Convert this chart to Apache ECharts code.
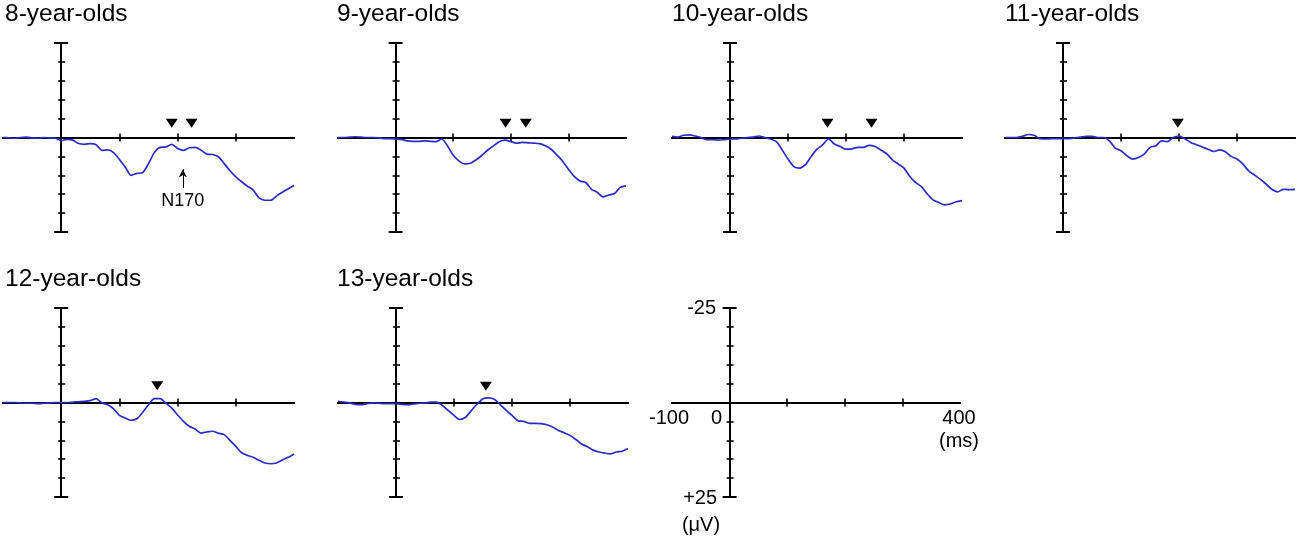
<!DOCTYPE html>
<html><head><meta charset="utf-8">
<script src="https://cdn.jsdelivr.net/npm/echarts@6/dist/echarts.min.js"></script>
<style>html,body{margin:0;padding:0;background:#fff}#c{width:1300px;height:538px}</style>
</head><body><div id="c"></div>
<script>
// ---- data ----
const times = [-100,-90,-80,-70,-60,-50,-40,-30,-20,-10,0,10,20,30,40,50,60,70,80,90,100,110,120,130,140,150,160,170,180,190,200,210,220,230,240,250,260,270,280,290,300,310,320,330,340,350,360,370,380,390,400];
const age8  = [0,0.1,0.2,0,-0.1,0.1,0.2,0,0.1,0.2,0.8,0.5,0.7,1.6,1.8,1.6,1.9,3.4,3.3,4.0,5.8,7.8,10.0,9.5,9.3,6.9,4.0,2.6,2.5,1.8,2.9,3.4,2.7,2.6,3.3,4.4,4.5,5.1,6.9,8.8,10.4,11.7,12.9,13.9,16.0,16.6,16.6,15.5,14.5,13.6,12.7];
const age9  = [0,0,-0.1,-0.2,-0.1,0,0,0.1,0.3,0.3,0.4,0.5,0.9,1.0,1.0,0.9,1.0,1.1,0.4,2.2,4.7,6.2,7.0,6.8,5.9,4.7,3.3,2.2,1.1,0.7,1.1,1.5,1.3,1.4,1.5,1.6,2.2,3.1,4.6,6.3,8.4,10.3,11.5,11.9,13.7,14.5,15.7,15.2,14.8,13.2,12.8];
const age10 = [-0.3,-0.1,-0.6,-0.7,-0.4,0,0.6,0.6,0.7,0.6,0.4,0.4,0.2,0,-0.1,-0.4,0,0.4,1.1,3.3,5.7,7.7,8.1,7.2,5.0,3.1,1.9,0.4,1.7,2.4,3.1,3.0,2.6,2.6,2.1,2.4,3.3,4.3,5.9,7.0,8.1,10.3,11.9,13.0,14.9,16.5,17.2,17.8,17.6,17.0,16.7];
const age11 = [0,0,0,-0.3,-0.8,-0.6,0.3,0.4,0.3,0.3,0.3,0.3,0.1,-0.1,-0.3,-0.3,0,0,0.9,2.8,3.5,4.8,5.7,5.3,4.4,2.6,2.2,0.9,1.1,0,-0.4,0.3,1.3,1.9,2.5,3.1,3.7,3.3,3.8,5.0,5.7,7.0,8.8,9.9,11.0,12.3,13.7,14.4,13.7,13.8,13.7];
const age12 = [0,0,0,0.1,0.2,0.2,0.3,0.2,0.1,0,0,0,-0.1,-0.2,-0.3,-0.5,-1.0,0.1,0.6,1.7,3.4,4.1,4.7,4.3,2.6,0.6,-1.0,-1.0,0.2,1.5,3.3,5.0,6.3,7.0,8.1,7.8,7.6,8.1,8.5,10.0,11.6,13.3,14.0,14.5,15.3,16.0,16.2,16.0,15.2,14.5,13.6];
const age13 = [-0.3,-0.1,0.1,0.5,0.6,0.3,0.1,0.2,0.3,0.3,0.3,0.5,0.6,0.4,0.2,0.1,-0.1,-0.1,0.8,2.1,3.4,4.5,3.9,2.1,0.4,-1.0,-1.2,-0.8,0.6,2.1,3.4,4.8,5.0,5.5,5.5,5.6,5.9,6.5,7.4,8.0,8.7,9.8,11.0,11.7,12.6,13.1,13.4,13.6,13.1,12.9,12.2];
const waves = [age8, age9, age10, age11, age12, age13];
const panelTitles = ['8-year-olds','9-year-olds','10-year-olds','11-year-olds','12-year-olds','13-year-olds'];
// peak markers (latency ms, amplitude level of the marker)
const peaks = [[[190,-3.8],[224,-3.8]], [[191,-3.8],[226,-3.8]], [[168,-3.8],[244,-3.8]], [[198,-3.8]], [[165,-4.4]], [[155,-4.3]]];
const xTicks = [100,200,300];
const yTicks = [-20,-15,-10,-5,5,10,15,20];
const yEnds = [-25,25];
// scale-bar panel labels: [x ms, y µV, text]
const scaleLabelsY = [[0,-25,'-25'],[0,25,'+25']];
const unitY = [0,25,'(\u03bcV)'];
const scaleLabelsX = [[-100,0,'-100'],[400,0,'400\n(ms)']];
const zeroLabel = [0,0,'0'];
const n170Arrow = [[209,13.4],[209,8.4]];
const n170Text = [209,16.9,'N170'];

// ---- layout ----
const grids = [
  {left:3,   top:43,  width:291, height:189},
  {left:338, top:43,  width:288, height:189},
  {left:672, top:43,  width:290, height:189},
  {left:1005,top:43,  width:290, height:189},
  {left:3,   top:308, width:291, height:189},
  {left:338, top:308, width:290, height:189},
  {left:672, top:308, width:288, height:189}
].map(g => Object.assign(g, {outerBoundsMode: 'none', containLabel: false}));
const titlePos = [[5,2],[337,2],[672,2],[1005,2],[5,267],[337,267]];
const FONT = 'Liberation Sans, Arial, sans-serif';
const txt = {color: '#000', fontFamily: FONT, opacity: 1};

const xAxis = [], yAxis = [], series = [];
grids.forEach((g, i) => {
  const xi = xAxis.length, yi = yAxis.length;
  const isLegend = i === 6;
  const baseX = (inside) => ({
    gridIndex: i, type: 'value', min: -100, max: 400, interval: 100, position: 'bottom',
    axisLine: {show: true, onZero: true, onZeroAxisIndex: yi, lineStyle: {color: '#000', width: 2}},
    axisTick: {show: true, inside: inside, length: 4, customValues: xTicks, lineStyle: {color: '#000', width: 1.6}},
    axisLabel: {show: false},
    splitLine: {show: false}
  });
  xAxis.push(baseX(true), baseX(false));
  const baseY = (tickVals, inside, len, w) => ({
    gridIndex: i, type: 'value', min: -25, max: 25, interval: 5, inverse: true, position: 'left',
    axisLine: {show: true, onZero: true, onZeroAxisIndex: xi, lineStyle: {color: '#000', width: 2}},
    axisTick: {show: true, inside: inside, length: len, customValues: tickVals, lineStyle: {color: '#000', width: w}},
    axisLabel: {show: false},
    splitLine: {show: false}
  });
  yAxis.push(baseY(yTicks, true, 4, 1.6), baseY(yTicks, false, 3, 1.6), baseY(yEnds, true, 7, 2), baseY(yEnds, false, 7, 2));
  if (isLegend) {
    const lbl = (d, label) => ({value: [d[0], d[1]], label: Object.assign({show: true, formatter: d[2], fontSize: 20}, txt, label)});
    series.push({
      type: 'scatter', xAxisIndex: xi, yAxisIndex: yi, symbol: 'circle', symbolSize: 1,
      itemStyle: {color: 'rgba(0,0,0,0)', opacity: 1}, silent: true, z: 6,
      data: [
        lbl(scaleLabelsY[0], {position: 'left', distance: 13}),
        lbl(scaleLabelsY[1], {position: 'left', distance: 12, offset: [0, 1]}),
        lbl(unitY, {position: 'left', distance: 9, offset: [0, 28]}),
        lbl(scaleLabelsX[0], {position: 'bottom', distance: 4, offset: [-3, 0], lineHeight: 23}),
        lbl(scaleLabelsX[1], {position: 'bottom', distance: 4, offset: [-1, 0], lineHeight: 23}),
        lbl(zeroLabel, {position: 'bottom', distance: 4, offset: [-13, 0], lineHeight: 23})
      ]
    });
    return;
  }
  series.push({
    type: 'line', xAxisIndex: xi, yAxisIndex: yi,
    data: times.map((t, k) => [t, waves[i][k]]),
    showSymbol: false, smooth: 0.25, z: 5,
    lineStyle: {color: '#2b2bc6', width: 1.7},
    silent: true,
    markLine: i === 0 ? {
      silent: true, symbol: ['none', 'arrow'], symbolSize: [6, 8],
      lineStyle: {color: '#000', width: 1, type: 'solid', opacity: 1}, label: {show: false},
      data: [[{coord: n170Arrow[0]}, {coord: n170Arrow[1]}]]
    } : undefined
  });
  series.push({
    type: 'scatter', xAxisIndex: xi, yAxisIndex: yi, data: peaks[i],
    symbol: 'triangle', symbolRotate: 180, symbolSize: [12, 9],
    itemStyle: {color: '#000', opacity: 1}, z: 6, silent: true
  });
  if (i === 0) {
    series.push({
      type: 'scatter', xAxisIndex: xi, yAxisIndex: yi, symbol: 'circle', symbolSize: 1,
      itemStyle: {color: 'rgba(0,0,0,0)', opacity: 1}, silent: true, z: 6,
      data: [{value: [n170Text[0], n170Text[1]], label: Object.assign({show: true, position: 'inside', formatter: n170Text[2], fontSize: 18}, txt)}]
    });
  }
});

const title = panelTitles.map((t, i) => ({
  text: t, left: titlePos[i][0], top: titlePos[i][1], padding: 0,
  textStyle: {fontSize: 24.5, fontWeight: 'normal', color: '#000', fontFamily: FONT}
}));

const chart = echarts.init(document.getElementById('c'));
chart.setOption({
  animation: false, backgroundColor: '#fff',
  title, grid: grids, xAxis, yAxis, series
});
</script></body></html>
